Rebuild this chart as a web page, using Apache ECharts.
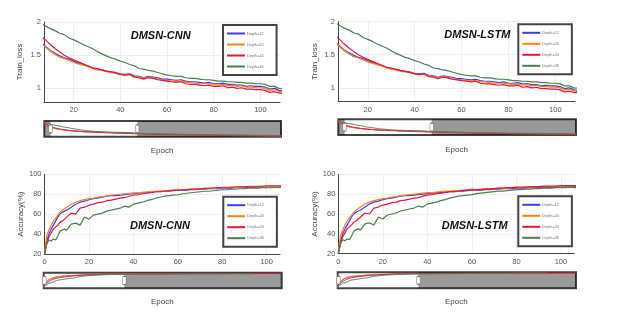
<!DOCTYPE html>
<html><head><meta charset="utf-8">
<script src="https://cdn.jsdelivr.net/npm/echarts@6/dist/echarts.min.js"></script>
<style>html,body{margin:0;padding:0;background:#fff}#c{width:623px;height:315px}</style>
</head><body><div id="c"></div>
<script>
// ---------- data ----------
const seriesNames = ['Depth=12', 'Depth=20', 'Depth=24', 'Depth=36'];

// Train loss, epochs 0..108 (step 2), shown window 7.3..108.4
const lossEpochs = [0,2,4,6,8,10,12,14,16,18,20,22,24,26,28,30,32,34,36,38,40,42,44,46,48,50,52,54,56,58,60,62,64,66,68,70,72,74,76,78,80,82,84,86,88,90,92,94,96,98,100,102,104,106,108];
const lossD12 = [2.15,1.88,1.77,1.69, 1.63,1.57,1.53,1.49,1.46,1.44,1.41,1.38,1.36,1.34, 1.31,1.29,1.28,1.26,1.25,1.24,1.22,1.21,1.22,1.19, 1.18,1.16,1.18,1.17,1.16,1.14,1.14,1.13,1.12,1.13, 1.11,1.10,1.10,1.09,1.08,1.09,1.07,1.07,1.08,1.06, 1.06,1.05,1.05,1.03,1.04,1.03,1.03,1.02,0.99,1.00, 0.97];
const lossD20 = [2.15,1.88,1.76,1.68, 1.62,1.56,1.51,1.47,1.45,1.42,1.39,1.37,1.35,1.33, 1.30,1.28,1.27,1.25,1.24,1.23,1.21,1.20,1.21,1.18, 1.17,1.15,1.17,1.16,1.14,1.13,1.12,1.11,1.11,1.11, 1.09,1.09,1.08,1.07,1.07,1.07,1.06,1.05,1.06,1.04, 1.05,1.03,1.04,1.02,1.02,1.01,1.01,1.00,0.97,0.98, 0.95];
const lossD24 = [2.20,1.98,1.87,1.79, 1.73,1.66,1.60,1.55,1.50,1.46,1.43,1.40,1.37,1.34, 1.31,1.30,1.28,1.26,1.25,1.23,1.21,1.20,1.21,1.17, 1.16,1.14,1.16,1.15,1.13,1.12,1.11,1.10,1.09,1.10, 1.07,1.06,1.06,1.05,1.04,1.05,1.03,1.03,1.04,1.01, 1.02,1.00,1.01,0.99,0.99,0.98,0.98,0.97,0.94,0.95, 0.93];
const lossD36 = [2.26,2.14,2.05,1.98, 1.94,1.90,1.87,1.83,1.81,1.76,1.73,1.70,1.66,1.63, 1.60,1.56,1.52,1.49,1.46,1.44,1.41,1.39,1.36,1.34, 1.30,1.29,1.27,1.26,1.24,1.22,1.20,1.19,1.18,1.18, 1.16,1.15,1.15,1.14,1.13,1.13,1.12,1.11,1.11,1.10, 1.10,1.09,1.09,1.08,1.08,1.07,1.07,1.06,1.03,1.03, 1.00];
// remaining epochs (only visible in the range slider)
const lossTailEpochs = [118,128,138,148,158,168,178,188,198,208,218,228,238,248,258,268,276];
const lossTailD12 = [0.95,0.93,0.91,0.89,0.87,0.85,0.84,0.82,0.81,0.80,0.79,0.78,0.77,0.76,0.75,0.74,0.73];
const lossTailD20 = [0.93,0.91,0.89,0.87,0.85,0.83,0.82,0.80,0.79,0.78,0.77,0.76,0.75,0.74,0.73,0.72,0.71];
const lossTailD24 = [0.92,0.90,0.88,0.86,0.84,0.82,0.81,0.79,0.78,0.77,0.76,0.75,0.74,0.73,0.72,0.71,0.70];
const lossTailD36 = [0.98,0.96,0.94,0.92,0.90,0.88,0.86,0.85,0.84,0.83,0.82,0.81,0.80,0.79,0.78,0.77,0.76];

// Accuracy (%), shown window 0..106
const accEpochs = [0,1,2,3,4,5,6,7,8,9,10,12,14,16,18,20,22,24,26,28,30,32,34,36,38,40,42,44,46,48,50,52,54,56,58,60,62,64,66,68,70,72,74,76,78,80,82,84,86,88,90,92,94,96,98,100,102,104,106];
const accD12 = [20,33,40,45,49,53,57,60,62,63,64, 67,70,72,73,74.5,75.5,76,77,78,78.5, 78.5,79,79.5,80,80.5,81,81.5,81.5,82,82.5, 82.5,83,83,83.5,84,84,84,84.5,84.5,85, 85,85.5,85.5,85.5,86,86,86,86.5,86.5,86.5, 87,86.5,87,87,87,87.5,87,87.5];
const accD20 = [22,38,44,49,53,56,59,62,64,65.5,67, 70,72,73.5,74.5,75.5,76,77,77.5,78.5,79, 79.5,80,80.5,81,81.5,81.5,82,82.5,83,83, 83.5,83.5,84,84.5,85,84.5,85,85.5,85.5,85.5, 86,86,86,86.5,86.5,86.5,87,87,87,87.5, 87.5,87.5,87.5,88,88,88,88,88.5];
const accD24 = [20,30,37,41,45,47,49,52,53,55,57, 61,60,66,67,69,70,71.5,72,73.5,74, 75,76,76.5,78,79,79.5,80.5,81,81.5,82.5, 82.5,83,83.5,84,84,84.5,84.5,85,85,85.5, 86,86,86.5,86.5,87,87,87,87.5,87.5,87.5, 88,88,88,88,88.5,88.5,88.5,88.5];
const accD36 = [20,30,34,33,35,34,38,43,44,45,44, 50,51,49,57,55,59,60,61,63,64, 65,66,68,67,70,71,72,73.5,74.5,76, 77,78,78.5,79,79.5,80.5,81,81.5,82,82.5, 83,83,83.5,84,84.5,84.5,85,85,85.5,85.5, 86,86,86,86.5,86.5,86.5,87,86.5];
const accTailEpochs = [116,130,145,160,175,190,205,220,235,250,265,275,290,305,313];
const accTailD12 = [87.5,88,88,88.5,88.5,89,89,89,89.5,89.5,89.5,89.5,null,null,null];
const accTailD20 = [88.5,88.5,89,89,89,89.5,89.5,89.5,90,90,90,90,null,null,null];
const accTailD24 = [88.5,89,89,89.5,89.5,90,90,90,90.5,90.5,90.5,91,91,91.5,91.5];
const accTailD36 = [87,87.5,88,88,88.5,88.5,89,89,89,89.5,89.5,89.5,null,null,null];

// axes / ticks
const xTickValues = [20, 40, 60, 80, 100];
const accXTickValues = [0, 20, 40, 60, 80, 100];
const lossYTicks = [1, 1.5, 2];
const accYTicks = [20, 40, 60, 80, 100];
const lossWindow = [7.3, 108.4];
const accWindow = [0, 106];
const lossYRange = [0.795, 2.0];
const accYRange = [20, 100];

// ---------- styles ----------
const colors = ['#3c3cf5', '#ff8214', '#e6163c', '#4f7f4f'];
const FONT = 'Liberation Sans, Arial, sans-serif';

function pairs(ep, vals, tailEp, tailVals) {
  const a = ep.map((e, k) => [e, vals[k]]);
  tailEp.forEach((e, k) => { if (tailVals[k] != null) a.push([e, tailVals[k]]); });
  return a;
}
const lossData = [
  pairs(lossEpochs, lossD12, lossTailEpochs, lossTailD12),
  pairs(lossEpochs, lossD20, lossTailEpochs, lossTailD20),
  pairs(lossEpochs, lossD24, lossTailEpochs, lossTailD24),
  pairs(lossEpochs, lossD36, lossTailEpochs, lossTailD36)
];
const accData = [
  pairs(accEpochs, accD12, accTailEpochs, accTailD12),
  pairs(accEpochs, accD20, accTailEpochs, accTailD20),
  pairs(accEpochs, accD24, accTailEpochs, accTailD24),
  pairs(accEpochs, accD36, accTailEpochs, accTailD36)
];

const panels = [
  {kind:'loss', title:'DMSN-CNN', grid:{left:44, top:22, width:236, height:80}, slider:{left:44.3, top:121, width:236.7, height:15.7}, titlePos:[130.7, 30], legendPos:[223, 25], yName:'Train_loss', yGap:20, xGap:45},
  {kind:'loss', title:'DMSN-LSTM', grid:{left:338, top:21.5, width:237, height:80}, slider:{left:338.3, top:119.3, width:237.7, height:15.7}, titlePos:[444.3, 29], legendPos:[518.3, 24.3], yName:'Train_loss', yGap:19, xGap:44.5},
  {kind:'acc', title:'DMSN-CNN', grid:{left:44.5, top:174.3, width:235.5, height:79.7}, slider:{left:43.7, top:272.7, width:238, height:15.6}, titlePos:[130, 220.7], legendPos:[223.3, 196.7], yName:'Accuracy(%)', yGap:20, xGap:44},
  {kind:'acc', title:'DMSN-LSTM', grid:{left:338.3, top:174.3, width:236, height:79.4}, slider:{left:337.7, top:272.3, width:238.3, height:16}, titlePos:[441.7, 220], legendPos:[518.3, 196.3], yName:'Accuracy(%)', yGap:20, xGap:44}
];

const option = {animation:false, backgroundColor:'#fff', title:[], legend:[], grid:[], xAxis:[], yAxis:[], series:[]};

panels.forEach((p, i) => {
  const isLoss = p.kind === 'loss';
  const data = isLoss ? lossData : accData;
  const win = isLoss ? lossWindow : accWindow;
  const yr = isLoss ? lossYRange : accYRange;
  const xt = isLoss ? xTickValues : accXTickValues;
  const yt = isLoss ? lossYTicks : accYTicks;
  const gMain = 2 * i, gSl = 2 * i + 1;

  option.grid.push(Object.assign({}, p.grid));
  option.grid.push(Object.assign({show:true, backgroundColor:'#fff', borderColor:'#444', borderWidth:2}, p.slider));

  option.xAxis.push({gridIndex:gMain, type:'value', min:win[0], max:win[1],
    axisLine:{show:true, onZero:false, lineStyle:{color:'#444', width:1}},
    axisTick:{show:false, customValues:xt},
    axisLabel:{customValues:xt, fontSize:7.5, color:'#555', margin:4, fontFamily:FONT},
    splitLine:{show:true, lineStyle:{color:'#eeeeee', width:1}},
    name:'Epoch', nameLocation:'middle', nameGap:p.xGap, nameTextStyle:{fontSize:8, color:'#444', fontFamily:FONT}});
  option.yAxis.push({gridIndex:gMain, type:'value', min:yr[0], max:yr[1],
    axisLine:{show:true, onZero:false, lineStyle:{color:'#444', width:1}},
    axisTick:{show:false, customValues:yt},
    axisLabel:{customValues:yt, fontSize:7.5, color:'#555', margin:3, fontFamily:FONT},
    splitLine:{show:true, lineStyle:{color:'#eeeeee', width:1}},
    name:p.yName, nameLocation:'middle', nameGap:p.yGap, nameTextStyle:{fontSize:8, color:'#444', fontFamily:FONT}});

  // slider axes (full data range)
  let xMax = -Infinity, yMin = Infinity, yMax = -Infinity;
  data.forEach(s => s.forEach(d => { xMax = Math.max(xMax, d[0]); yMin = Math.min(yMin, d[1]); yMax = Math.max(yMax, d[1]); }));
  const pad = (yMax - yMin) * 0.04;
  option.xAxis.push({gridIndex:gSl, type:'value', min:0, max:xMax, show:false});
  option.yAxis.push({gridIndex:gSl, type:'value', min:yMin - pad, max:yMax + pad, show:false});

  seriesNames.forEach((n, k) => {
    option.series.push({type:'line', name:n, xAxisIndex:gMain, yAxisIndex:gMain, data:data[k],
      showSymbol:false, symbol:'none', clip:true, silent:true, z:2,
      lineStyle:{color:colors[k], width:1.2}, itemStyle:{color:colors[k]}});
    option.series.push({type:'line', name:n, xAxisIndex:gSl, yAxisIndex:gSl, data:data[k],
      showSymbol:false, symbol:'none', clip:true, silent:true, z:2,
      lineStyle:{color:colors[k], width:0.9}, itemStyle:{color:colors[k]}});
  });

  const areas = [];
  if (win[0] > 0) areas.push([{xAxis:0}, {xAxis:win[0]}]);
  areas.push([{xAxis:win[1]}, {xAxis:xMax}]);
  const yMid = (yMin + yMax) / 2;
  option.series.push({type:'line', xAxisIndex:gSl, yAxisIndex:gSl, data:[], z:3, silent:true,
    markArea:{silent:true, itemStyle:{color:'rgba(0,0,0,0.4)'}, data:areas},
    markPoint:{silent:true, symbol:'roundRect', symbolSize:[3.5, 8], label:{show:false},
      itemStyle:{color:'#fff', borderColor:'#777', borderWidth:0.8},
      data:[{coord:[win[0] + (win[0] === 0 ? 1 : 0), yMid]}, {coord:[win[1], yMid]}]}});

  option.title.push({text:p.title, left:p.titlePos[0], top:p.titlePos[1], padding:0,
    textStyle:{fontSize:11, fontWeight:'bold', fontStyle:'italic', color:'#111', fontFamily:FONT}});

  option.legend.push({left:p.legendPos[0], top:p.legendPos[1], orient:'vertical', data:seriesNames,
    icon:'rect', itemWidth:18, itemHeight:2, itemGap:4, padding:[5, 13, 5, 4],
    borderColor:'#444', borderWidth:2, backgroundColor:'#fff', selectedMode:false,
    textStyle:{fontSize:3.8, color:'#777', lineHeight:7, fontFamily:FONT, padding:[0,0,0,-3]}});
});

const chart = echarts.init(document.getElementById('c'), null, {renderer:'canvas'});
chart.setOption(option);
</script>
</body></html>
